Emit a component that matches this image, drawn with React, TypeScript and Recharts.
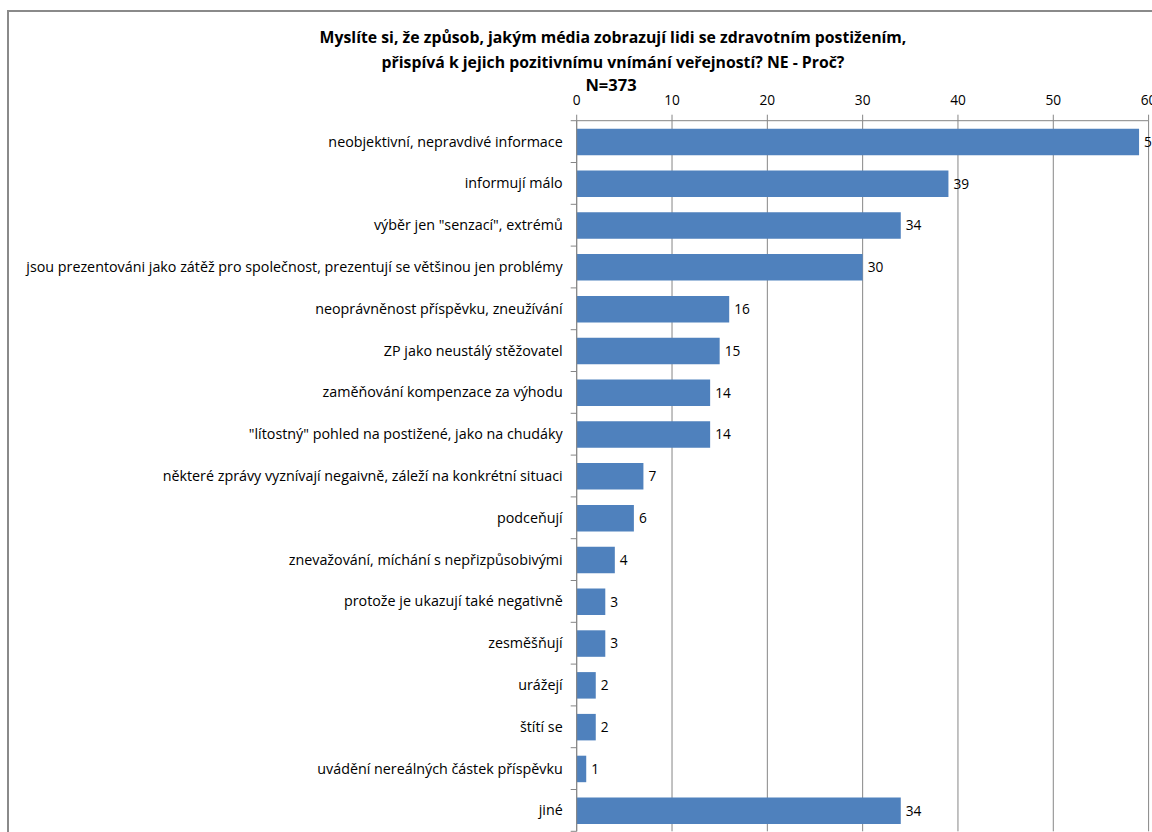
import { BarChart, Bar, XAxis, YAxis, CartesianGrid, LabelList } from "recharts";

const categories = [
  "neobjektivní, nepravdivé informace",
  "informují málo",
  "výběr jen \"senzací\", extrémů",
  "jsou prezentováni jako zátěž pro společnost, prezentují se většinou jen problémy",
  "neoprávněnost příspěvku, zneužívání",
  "ZP jako neustálý stěžovatel",
  "zaměňování kompenzace za výhodu",
  "\"lítostný\" pohled na postižené, jako na chudáky",
  "některé zprávy vyznívají negaivně, záleží na konkrétní situaci",
  "podceňují",
  "znevažování, míchání s nepřizpůsobivými",
  "protože je ukazují také negativně",
  "zesměšňují",
  "urážejí",
  "štítí se",
  "uvádění nereálných částek příspěvku",
  "jiné",
];
const counts = [59, 39, 34, 30, 16, 15, 14, 14, 7, 6, 4, 3, 3, 2, 2, 1, 34];
const xTicks = [0, 10, 20, 30, 40, 50, 60];
const titleLines = [
  "Myslíte si, že způsob, jakým média zobrazují lidi se zdravotním postižením,",
  "přispívá k jejich pozitivnímu vnímání veřejností? NE - Proč?",
];
const subtitle = "N=373";

const data = categories.map((name, i) => ({ name, value: counts[i] }));

const FONT = "'Open Sans', 'Liberation Sans', sans-serif";
const GRID = "#868686";
const CHART_W = 1200;
const CHART_H = 900;
const MARGIN = { top: 90.7, right: 51.4, bottom: 68.7, left: 0 };
const X_AXIS_H = 30;
const PLOT_H = CHART_H - MARGIN.top - MARGIN.bottom - X_AXIS_H;
const BAND = PLOT_H / categories.length;

// category label plus the small tick at the band boundary (Excel style)
const CategoryTick = (props: any) => {
  const { x, y, payload, index } = props;
  const axisX = x + 8;
  return (
    <g>
      <line x1={axisX - 6} x2={axisX} y1={y - BAND / 2} y2={y - BAND / 2} stroke={GRID} />
      {index === categories.length - 1 && (
        <line x1={axisX - 6} x2={axisX} y1={y + BAND / 2} y2={y + BAND / 2} stroke={GRID} />
      )}
      <text x={axisX - 14} y={y} dy="0.35em" textAnchor="end" fill="#000" fontSize={14.3} fontFamily={FONT}>
        {payload.value}
      </text>
    </g>
  );
};

export default function App() {
  return (
    <div
      style={{
        position: "absolute",
        left: 0,
        top: 0,
        width: 1152,
        height: 832,
        overflow: "hidden",
        background: "#fff",
        fontFamily: FONT,
      }}
    >
      <div
        style={{
          position: "absolute",
          left: 7,
          top: 10,
          width: 1300,
          height: 1000,
          borderLeft: "2px solid #8a8a8a",
          borderTop: "2px solid #8a8a8a",
        }}
      />
      {titleLines.map((t, i) => (
        <div
          key={i}
          style={{
            position: "absolute",
            left: 0,
            width: 1226,
            top: 37.3 + i * 24.4 - 11,
            height: 22,
            lineHeight: "22px",
            textAlign: "center",
            fontWeight: 700,
            fontSize: 15.8,
            color: "#000",
            whiteSpace: "nowrap",
          }}
        >
          {t}
        </div>
      ))}
      <div
        style={{
          position: "absolute",
          left: 0,
          width: 1222,
          top: 85 - 11,
          height: 22,
          lineHeight: "22px",
          textAlign: "center",
          fontWeight: 700,
          fontSize: 16.5,
          color: "#000",
        }}
      >
        {subtitle}
      </div>
      <div style={{ position: "absolute", left: 0, top: 0 }}>
        <BarChart width={CHART_W} height={CHART_H} data={data} layout="vertical" margin={MARGIN}>
          <CartesianGrid horizontal={false} stroke={GRID} strokeOpacity={1} />
          <XAxis
            type="number"
            orientation="top"
            domain={[0, 60]}
            ticks={xTicks}
            height={X_AXIS_H}
            interval={0}
            axisLine={{ stroke: GRID }}
            tickLine={{ stroke: GRID }}
            tickSize={6}
            tickMargin={10}
            tick={{ fill: "#000", fontSize: 13.7, fontFamily: FONT }}
          />
          <YAxis
            type="category"
            dataKey="name"
            width={576.7}
            interval={0}
            axisLine={{ stroke: GRID }}
            tickLine={false}
            tickSize={6}
            tickMargin={2}
            tick={<CategoryTick />}
          />
          <Bar dataKey="value" fill="#4F81BD" barSize={26.5} isAnimationActive={false}>
            <LabelList dataKey="value" position="right" offset={5} fill="#000" fontSize={13.7} fontFamily={FONT} />
          </Bar>
        </BarChart>
      </div>
    </div>
  );
}
